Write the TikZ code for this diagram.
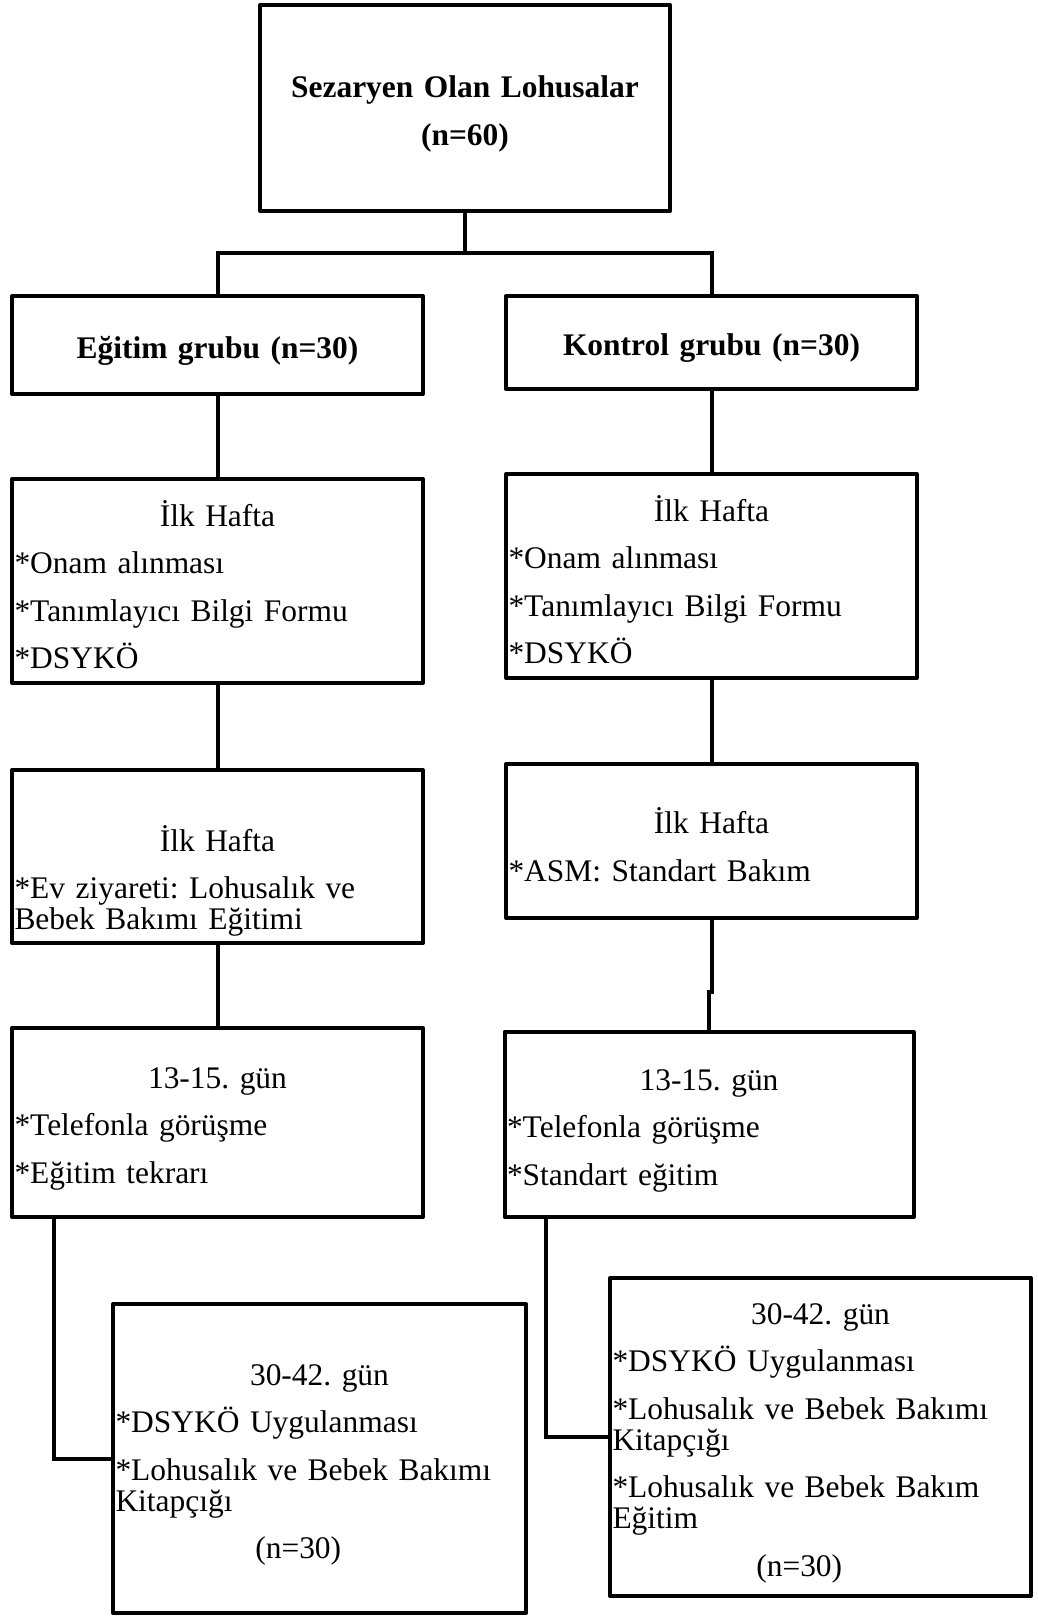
\documentclass[tikz,border=0pt]{standalone}
\usepackage{fontspec}
\setmainfont{Liberation Serif}
\usepackage{tikz}

\newcommand{\boxfont}{\fontsize{17.9}{17.6}\selectfont\frenchspacing\lineskiplimit=-20pt\relax}
\newcommand{\boxhead}[1]{\makebox[\linewidth]{#1}}

\tikzstyle{box} = [rectangle, draw=black, line width=0.08cm, line join=round, inner xsep=0.05cm, inner ysep=0pt, text width=8.12cm, align=left, font=\boxfont, execute at begin node={\rule{0pt}{19pt}}]
\tikzstyle{group} = [box, align=center, font=\boxfont\bfseries]
\tikzstyle{link} = [line width=0.08cm]

\begin{document}
\begin{tikzpicture}[node distance=1cm]
\useasboundingbox (0,0) rectangle (20.74,-32.34);

\node (top) [group, text width=8.1cm, minimum height=4.12cm, xshift=9.3cm, yshift=-2.16cm] {Sezaryen Olan Lohusalar\\[9.4pt](n=60)};
\node (egitim) [group, minimum height=1.96cm, below of=top, xshift=-4.95cm, yshift=-3.74cm] {Eğitim grubu (n=30)};
\node (kontrol) [group, minimum height=1.86cm, right of=egitim, xshift=8.88cm, yshift=0.05cm] {Kontrol grubu (n=30)};

% ilk hafta
\node (egitim1) [box, minimum height=4.08cm, below of=egitim, yshift=-3.72cm] {\boxhead{İlk Hafta}\\[9.4pt]*Onam alınması\\[9.4pt]*Tanımlayıcı Bilgi Formu\\[9.4pt]*DSYKÖ};
\node (kontrol1) [box, minimum height=4.08cm, below of=kontrol, yshift=-3.67cm] {\boxhead{İlk Hafta}\\[9.4pt]*Onam alınması\\[9.4pt]*Tanımlayıcı Bilgi Formu\\[9.4pt]*DSYKÖ};
\node (egitim2) [box, minimum height=3.46cm, below of=egitim1, yshift=-4.51cm] {\mbox{}\\[6pt]\boxhead{İlk Hafta}\\[9.4pt]*Ev ziyareti: Lohusalık ve\\Bebek Bakımı Eğitimi};
\node (kontrol2) [box, minimum height=3.08cm, below of=kontrol1, yshift=-4.30cm] {\boxhead{İlk Hafta}\\[9.4pt]*ASM: Standart Bakım};

% 13-15. gun
\node (egitim3) [box, minimum height=3.78cm, below of=egitim2, yshift=-4.32cm] {\boxhead{13-15. gün}\\[9.4pt]*Telefonla görüşme\\[9.4pt]*Eğitim tekrarı};
\node (kontrol3) [box, text width=8.08cm, minimum height=3.70cm, below of=kontrol2, xshift=-0.05cm, yshift=-4.67cm] {\boxhead{13-15. gün}\\[9.4pt]*Telefonla görüşme\\[9.4pt]*Standart eğitim};

% 30-42. gun
\node (egitim4) [box, text width=8.16cm, minimum height=6.18cm, below of=egitim3, xshift=2.04cm, yshift=-5.72cm] {\boxhead{30-42. gün}\\[9.4pt]*DSYKÖ Uygulanması\\[9.4pt]*Lohusalık ve Bebek Bakımı\\Kitapçığı\\[9.4pt]\boxhead{(n=30)\hspace{0.85cm}}};
\node (kontrol4) [box, text width=8.32cm, minimum height=6.36cm, below of=kontrol3, xshift=2.23cm, yshift=-5.25cm] {\boxhead{30-42. gün}\\[9.4pt]*DSYKÖ Uygulanması\\[9.4pt]*Lohusalık ve Bebek Bakımı\\Kitapçığı\\[9.4pt]*Lohusalık ve Bebek Bakım\\Eğitim\\[9.4pt]\boxhead{(n=30)\hspace{0.85cm}}};

% Lines
\draw [link] (top.south) -- ++(0,-0.8) coordinate (split);
\draw [link] (egitim.north) |- (split) -| (kontrol.north);
\draw [link] (egitim.south) -- (egitim1.north);
\draw [link] (kontrol.south) -- (kontrol1.north);
\draw [link] (egitim1.south) -- (egitim2.north);
\draw [link] (kontrol1.south) -- (kontrol2.north);
\draw [link] (egitim2.south) -- (egitim3.north);
\draw [link] (kontrol2.south) -- ++(0,-1.44) -| (kontrol3.north);
\draw [link] ([xshift=-3.27cm]egitim3.south) |- (egitim4.west);
\draw [link] ([xshift=-3.26cm]kontrol3.south) |- (kontrol4.west);

\end{tikzpicture}
\end{document}
